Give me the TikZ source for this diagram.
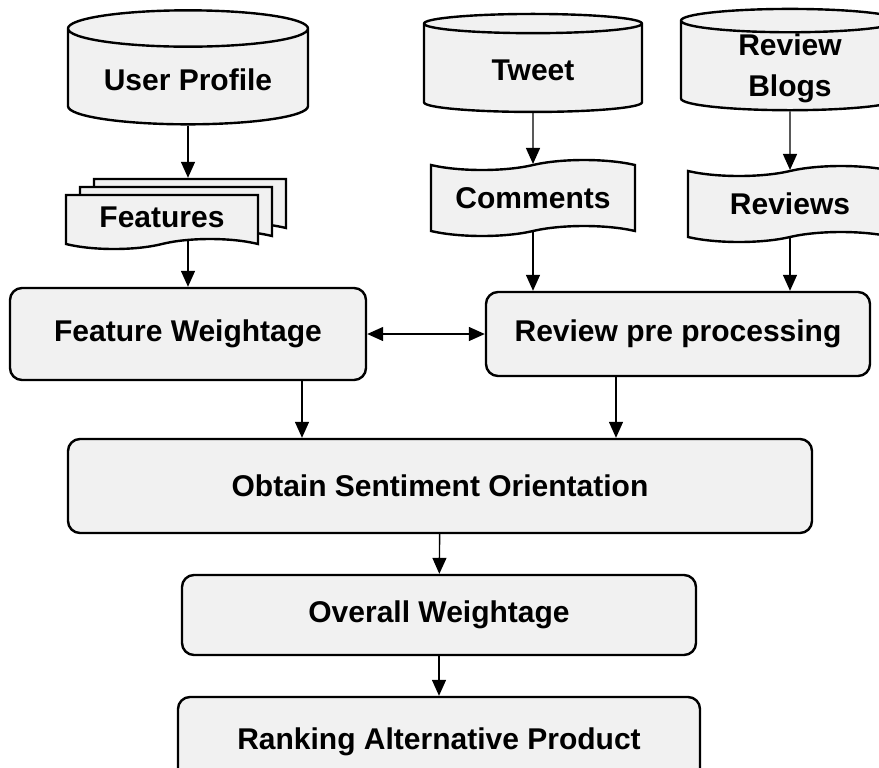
\documentclass[tikz,border=0pt]{standalone}
\usepackage{fontspec}
\setmainfont{Liberation Sans}
\usetikzlibrary{shapes.geometric,shapes.symbols,arrows.meta}
\definecolor{boxgray}{RGB}{241,241,241}

\begin{document}
\begin{tikzpicture}[x=0.5pt,y=-0.5pt]
   \clip (0,0) rectangle (879,767);
   \tikzstyle{every node}=[draw,line width=1.2pt,fill=boxgray,align=center,
                           font=\fontsize{15}{20.5}\selectfont\bfseries]
   \tikzstyle{store}=[cylinder,shape border rotate=90,aspect=0.2,
                      minimum width=120pt,minimum height=57pt]
   \tikzstyle{paper}=[tape,tape bend top=in and out,tape bend bottom=in and out,
                      tape bend height=5pt,minimum width=102pt,minimum height=38pt]
   \tikzstyle{sheet}=[tape,tape bend top=none,tape bend bottom=in and out,
                      tape bend height=5pt,minimum width=96pt,minimum height=27pt]
   \tikzstyle{stepbox}=[rectangle,rounded corners=6pt]
   \tikzstyle{tip}=[line width=0.7pt,-{Triangle[length=8pt,width=7pt]}]
   \tikzstyle{tips}=[line width=0.7pt,{Triangle[length=8pt,width=7pt]}-{Triangle[length=8pt,width=7pt]}]

\node[store] (user) at (188,80) {User Profile};
\node[store,minimum width=109pt,minimum height=49pt] (tweet) at (533,70) {Tweet};
\node[store,minimum width=109pt,minimum height=49pt,inner ysep=0pt] (blogs) at (790,68) {Review\\Blogs};

\node[sheet] (feat3) at (190,201) {};
\node[sheet] (feat2) at (176,209) {};
\node[sheet] (feat) at (162,217) {Features};
\node[paper] (comm) at (533,198) {Comments};
\node[paper] (revs) at (790,204) {Reviews};

\node[stepbox,minimum width=178pt,minimum height=46pt] (fw) at (188,334) {Feature Weightage};
\node[stepbox,minimum width=192pt,minimum height=42pt] (rp) at (678,334) {Review pre processing};
\node[stepbox,minimum width=372pt,minimum height=47pt] (obt) at (440,486) {Obtain Sentiment Orientation};
\node[stepbox,minimum width=257pt,minimum height=40pt] (ow) at (439,615) {Overall Weightage};
\node[stepbox,minimum width=261pt,minimum height=45pt] (rank) at (439,742) {Ranking Alternative Product};

\path[tip]
(user) edge (user.south |- feat3.north)
(fw.north |- feat.south) edge (fw.north)
(tweet) edge (comm)
(comm.south) edge (comm.south |- rp.north)
(blogs) edge (revs)
(revs.south) edge (revs.south |- rp.north)
([xshift=57pt]fw.south) edge ([xshift=57pt]fw.south |- obt.north)
([xshift=-31pt]rp.south) edge ([xshift=-31pt]rp.south |- obt.north)
(obt) edge (ow)
(ow) edge (rank);
\path[tips]
(fw) edge (rp);

\end{tikzpicture}
\end{document}
